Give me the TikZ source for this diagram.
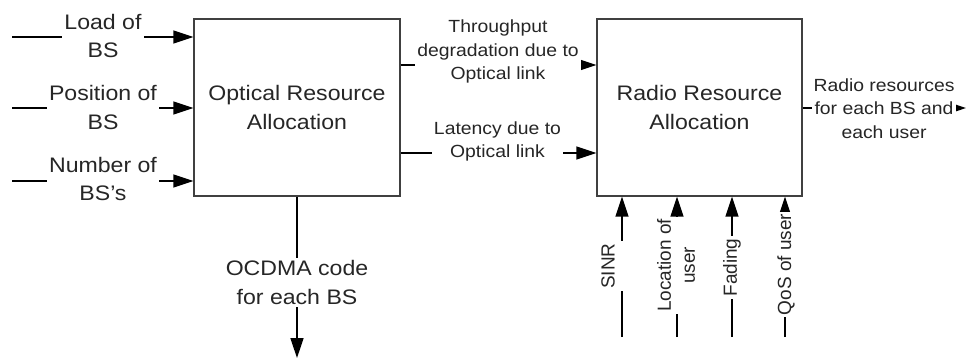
\documentclass[tikz,border=0pt]{standalone}
\usepackage{fontspec}
\setmainfont[FakeStretch=1.1]{Liberation Sans}
\newfontfamily\rotfont{Liberation Sans}
\usetikzlibrary{arrows.meta}
\begin{document}
\begin{tikzpicture}[x=1pt,y=-1pt,
  box/.style={draw=black!75, line width=1.3pt, fill=white, align=center, text=black!85,
    font=\fontsize{21}{28.5}\selectfont, inner sep=0pt},
  conn/.style={line width=1.5pt, -{Triangle[length=20pt,width=13pt]}},
  big/.style={fill=white, align=center, inner xsep=2pt, inner ysep=3pt, text=black!85,
    font=\fontsize{21}{28.5}\selectfont},
  small/.style={fill=white, align=center, inner xsep=2pt, inner ysep=2pt, text=black!85,
    font=\fontsize{17.6}{23.5}\selectfont},
  vert/.style={fill=white, align=center, rotate=90, inner xsep=2pt, inner ysep=1pt, text=black!85,
    font=\rotfont\fontsize{19}{24}\selectfont},
]
\useasboundingbox (0,0) rectangle (969,360);

% boxes
\node[box, minimum width=206pt, minimum height=177pt] (ora) at (297,107.5) {Optical Resource\\Allocation};
\node[box, minimum width=205pt, minimum height=177pt] (rra) at (699.5,107.5) {Radio Resource\\Allocation};

% free ends
\coordinate (in1) at (12,37);
\coordinate (in2) at (12,108);
\coordinate (in3) at (12,181);
\coordinate (out) at (966,108);
\coordinate (oc) at (297,358);
\coordinate (v1) at (622,337);
\coordinate (v2) at (677,337);
\coordinate (v3) at (732,337);
\coordinate (v4) at (785,337);

% connectors
\draw[conn] (in1) -- (in1 -| ora.west);
\draw[conn] (in2) -- (in2 -| ora.west);
\draw[conn] (in3) -- (in3 -| ora.west);
\draw[conn] (ora.east |- 0,65) -- (rra.west |- 0,65);
\draw[conn] (ora.east |- 0,153) -- (rra.west |- 0,153);
\draw[conn] (rra.east |- out) -- (out);
\draw[conn] (ora.south) -- (oc);
\draw[conn] (v1) -- (v1 |- rra.south);
\draw[conn] (v2) -- (v2 |- rra.south);
\draw[conn] (v3) -- (v3 |- rra.south);
\draw[conn] (v4) -- (v4 |- rra.south);

% labels
\node[big] (l1) at (103,36) {Load of\\BS};
\node[big] (l2) at (103,107.5) {Position of\\BS};
\node[big] (l3) at (103,179) {Number of\\BS's};
\node[small] (lt) at (498,51.5) {Throughput\\degradation due to\\Optical link};
\node[small] (ll) at (497.5,141.5) {Latency due to\\Optical link};
\node[small] (lo) at (884,108.5) {Radio resources\\for each BS and\\each user};
\node[big] (lc) at (297,282.5) {OCDMA code\\for each BS};
\node[vert] (lv1) at (620,266) {SINR\\\mbox{}};
\node[vert] (lv2) at (676,265.5) {Location of\\user};
\node[vert] (lv3) at (732,267.5) {Fading};
\node[vert] (lv4) at (786,264.5) {QoS of user};
\end{tikzpicture}
\end{document}
